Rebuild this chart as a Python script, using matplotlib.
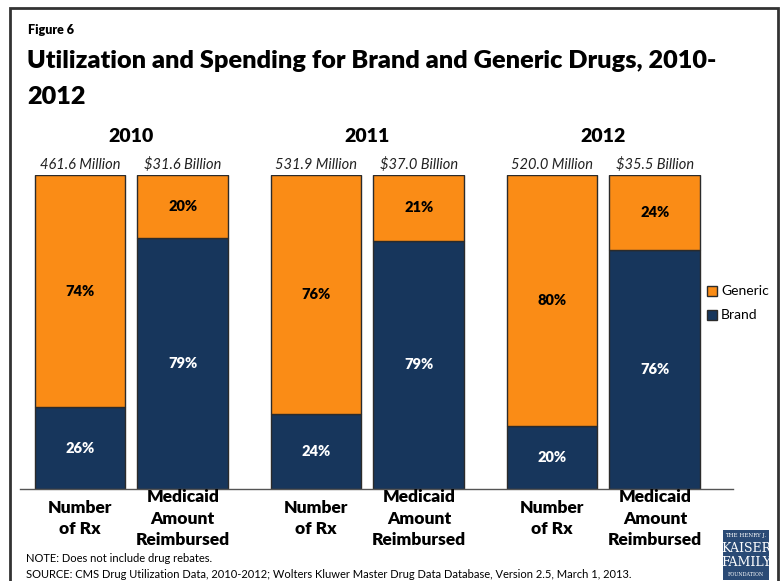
import matplotlib.pyplot as plt
import matplotlib.patches as mpatches
import numpy as np

plt.rcParams['font.family'] = ['Lato', 'DejaVu Sans']

years = ['2010', '2011', '2012']
categories = ['Number\nof Rx', 'Medicaid\nAmount\nReimbursed']
brand = [26, 79, 24, 79, 20, 76]
generic = [74, 20, 76, 21, 80, 24]
totals = ['461.6 Million', '$31.6 Billion', '531.9 Million', '$37.0 Billion',
          '520.0 Million', '$35.5 Billion']

orange = '#FA8C16'
navy = '#17365C'
edge = '#2b2b2b'

fig = plt.figure(figsize=(7.84, 5.81), dpi=100)
W, H = 784, 581

ax = fig.add_axes([20 / W, 1 - 489 / H, 713 / W, 314 / H])

x = []
for g in range(len(years)):
    x.append(g - 0.218)
    x.append(g + 0.218)
x = np.array(x)

b = np.array(brand, float)
gn = np.array(generic, float)
tot = b + gn
b_h = b / tot * 100
g_h = gn / tot * 100

ax.bar(x, b_h, width=0.385, color=navy, edgecolor=edge, linewidth=1)
ax.bar(x, g_h, bottom=b_h, width=0.385, color=orange, edgecolor=edge, linewidth=1)

for i in range(len(x)):
    ax.text(x[i], b_h[i] / 2, f'{brand[i]}%', ha='center', va='center',
            color='white', fontsize=10.5, fontweight='heavy')
    ax.text(x[i], b_h[i] + g_h[i] / 2, f'{generic[i]}%', ha='center', va='center',
            color='black', fontsize=10.5, fontweight='heavy')
    ax.text(x[i], 103.3, totals[i], ha='center', va='center', fontsize=10.5,
            style='italic', color='#222222')
    ax.text(x[i], -9.4, categories[i % 2], ha='center', va='center',
            fontsize=12.5, fontweight='heavy', linespacing=1.42)

for g, yr in enumerate(years):
    ax.text(g, 112.4, yr, ha='center', va='center', fontsize=14, fontweight='heavy')

ax.set_xlim(-0.472, 2.549)
ax.set_ylim(0, 100)
for s in ['top', 'right', 'left']:
    ax.spines[s].set_visible(False)
ax.spines['bottom'].set_color('#555555')
ax.spines['bottom'].set_linewidth(1)
ax.set_xticks([])
ax.set_yticks([])

# legend
fig.patches.append(mpatches.Rectangle((707 / W, 1 - 296 / H), 10 / W, 10 / H,
                                      transform=fig.transFigure, facecolor=orange,
                                      edgecolor=edge, linewidth=1))
fig.text(721 / W, 1 - 291 / H, 'Generic', va='center', fontsize=10)
fig.patches.append(mpatches.Rectangle((707 / W, 1 - 320 / H), 10 / W, 10 / H,
                                      transform=fig.transFigure, facecolor=navy,
                                      edgecolor=edge, linewidth=1))
fig.text(721 / W, 1 - 315 / H, 'Brand', va='center', fontsize=10)

# titles
fig.text(28 / W, 1 - 30 / H, 'Figure 6', fontsize=9, fontweight='heavy', va='center')
fig.text(27 / W, 1 - 61 / H, 'Utilization and Spending for Brand and Generic Drugs, 2010-',
         fontsize=18.2, fontweight='heavy', va='center')
fig.text(27 / W, 1 - 97 / H, '2012', fontsize=18.2, fontweight='heavy', va='center')

# notes
fig.text(26 / W, 1 - 558 / H, 'NOTE: Does not include drug rebates.', fontsize=8, va='center')
fig.text(26 / W, 1 - 575 / H,
         'SOURCE: CMS Drug Utilization Data, 2010-2012; Wolters Kluwer Master Drug Data Database, Version 2.5, March 1, 2013.',
         fontsize=8, va='center')

# logo
fig.patches.append(mpatches.Rectangle((723 / W, 1 - 580 / H), 46 / W, 50 / H,
                                      transform=fig.transFigure, facecolor='#2a4a75',
                                      edgecolor='none'))
fig.text(746 / W, 1 - 536 / H, 'THE HENRY J.', color='white', fontsize=4,
         ha='center', va='center', family='DejaVu Serif')
fig.text(746 / W, 1 - 549 / H, 'KAISER', color='white', fontsize=9,
         ha='center', va='center', family='DejaVu Serif')
fig.text(746 / W, 1 - 563 / H, 'FAMILY', color='white', fontsize=9,
         ha='center', va='center', family='DejaVu Serif')
fig.text(746 / W, 1 - 575 / H, 'FOUNDATION', color='white', fontsize=3.5,
         ha='center', va='center', family='DejaVu Serif')

# frame
fig.patches.append(mpatches.Rectangle((10 / W, -0.05), 768 / W, 1 - 8 / H + 0.05,
                                      transform=fig.transFigure, facecolor='none',
                                      edgecolor='#333333', linewidth=2))

fig.savefig('out.png', dpi=100)
